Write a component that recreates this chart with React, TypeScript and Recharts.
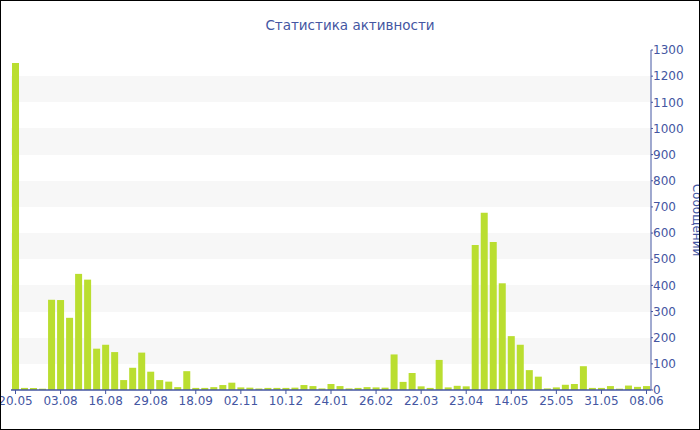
import React from 'react';
import { BarChart, Bar, XAxis, YAxis, CartesianGrid, Label } from 'recharts';

// Messages per period, oldest first
const messages: number[] = [
  1250, 8, 8, 5, 345, 344, 276, 444, 422, 158,
  173, 145, 38, 85, 143, 70, 38, 32, 11, 72,
  8, 8, 11, 19, 28, 10, 9, 6, 8, 8,
  8, 9, 19, 15, 6, 23, 15, 6, 8, 11,
  10, 9, 136, 31, 65, 14, 8, 115, 10, 16,
  14, 554, 678, 566, 408, 206, 173, 76, 51, 6,
  10, 20, 23, 91, 8, 8, 15, 5, 17, 12,
  15,
];

// Dates shown under every fifth period
const tickLabels: string[] = [
  '20.05', '03.08', '16.08', '29.08', '18.09', '02.11', '10.12', '24.01',
  '26.02', '22.03', '23.04', '14.05', '25.05', '31.05', '08.06',
];

const valueTicks: number[] = [0, 100, 200, 300, 400, 500, 600, 700, 800, 900, 1000, 1100, 1200, 1300];
const minorTicks: number[] = Array.from({ length: 27 }, (_, i) => i * 50);

const TICK_STEP = 5;
const INK = '#4456a2';
const BAR = '#bade30';
const FONT = '"DejaVu Sans", Verdana, sans-serif';

const data = messages.map((count, slot) => ({ slot, count }));

export default function App() {
  return (
    <div
      style={{
        position: 'fixed',
        left: 0,
        top: 0,
        width: 700,
        height: 430,
        background: '#fff',
        fontFamily: FONT,
        overflow: 'hidden',
      }}
    >
      <div
        style={{
          position: 'absolute',
          left: 0,
          top: 15,
          width: 700,
          textAlign: 'center',
          fontSize: 13.5,
          lineHeight: '20px',
          color: INK,
        }}
      >
        Статистика активности
      </div>
      <div style={{ position: 'absolute', left: 1, top: 1 }}>
        <BarChart
          width={698}
          height={428}
          data={data}
          margin={{ top: 49, right: 0, bottom: 0, left: 10 }}
          barCategoryGap={1}
        >
          <CartesianGrid
            yAxisId="main"
            vertical={false}
            stroke="none"
            horizontalFill={['#ffffff', '#f7f7f7']}
            fillOpacity={1}
          />
          <XAxis
            dataKey="slot"
            interval={TICK_STEP - 1}
            height={39}
            tickSize={4}
            tickMargin={2}
            tickFormatter={(v: number) => tickLabels[Math.round(Number(v) / TICK_STEP)] ?? ''}
            axisLine={{ stroke: INK, strokeWidth: 1.5 }}
            tickLine={{ stroke: INK }}
            tick={{ fill: INK, fontSize: 12, fontFamily: FONT }}
          />
          <YAxis
            yAxisId="main"
            orientation="right"
            domain={[0, 1300]}
            ticks={valueTicks}
            interval={0}
            width={48}
            tickSize={2}
            tickMargin={0}
            axisLine={{ stroke: INK }}
            tickLine={{ stroke: INK }}
            tick={{ fill: INK, fontSize: 12, fontFamily: FONT, textAnchor: 'start' }}
          >
            <Label
              value="Сообщении"
              angle={90}
              position="insideRight"
              offset={2}
              textAnchor="middle"
              style={{ fill: INK, fontSize: 12, fontFamily: FONT, textAnchor: 'middle' }}
            />
          </YAxis>
          <YAxis
            yAxisId="minor"
            orientation="right"
            mirror
            domain={[0, 1300]}
            ticks={minorTicks}
            interval={0}
            tickSize={3}
            axisLine={false}
            tickLine={{ stroke: INK }}
            tickFormatter={() => ''}
          />
          <Bar
            yAxisId="main"
            dataKey="count"
            fill={BAR}
            barSize={7}
            isAnimationActive={false}
          />
        </BarChart>
      </div>
      <div
        style={{
          position: 'absolute',
          left: 0,
          top: 0,
          width: 700,
          height: 430,
          boxSizing: 'border-box',
          border: '1px solid #000',
          pointerEvents: 'none',
        }}
      />
    </div>
  );
}
